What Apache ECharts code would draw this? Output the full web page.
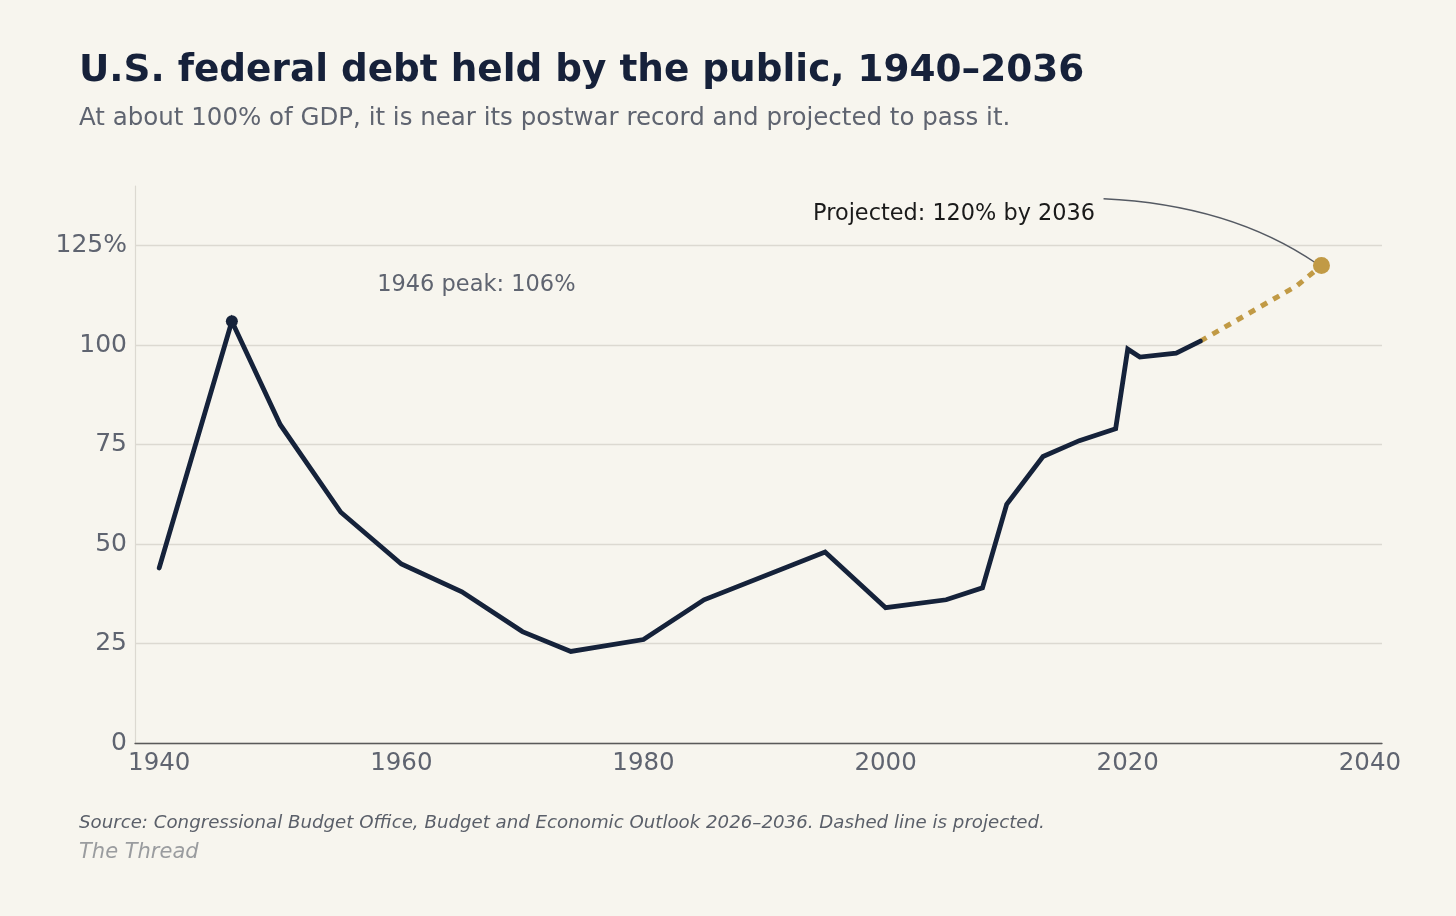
<!DOCTYPE html>
<html>
<head>
<meta charset="utf-8">
<title>U.S. federal debt held by the public</title>
<script src="https://cdn.jsdelivr.net/npm/echarts@6/dist/echarts.min.js"></script>
<style>
  html, body { margin: 0; padding: 0; background: #f7f5ee; }
  #chart { width: 1456px; height: 916px; }
</style>
</head>
<body>
<div id="chart"></div>
<script>
// historical debt held by the public, % of GDP
const histYears  = [1940, 1946, 1950, 1955, 1960, 1965, 1970, 1974, 1980, 1985, 1995, 2000, 2005, 2008, 2010, 2013, 2016, 2019, 2020, 2021, 2024, 2026];
const histValues = [44, 106, 80, 58, 45, 38, 28, 23, 26, 36, 48, 34, 36, 39, 60, 72, 76, 79, 99, 97, 98, 101];

// CBO projection
const projYears  = [2026, 2028, 2030, 2032, 2034, 2036];
const projValues = [101, 104.5, 108, 111.5, 115, 120];

const peakYear = 1946, peakValue = 106;
const endYear = 2036, endValue = 120;

const xLabels = [1940, 1960, 1980, 2000, 2020, 2040];

const NAVY = '#15223a';
const GOLD = '#c19a45';
const GRAY = '#5f6470';
const FONT = 'DejaVu Sans';

const chart = echarts.init(document.getElementById('chart'));

const zip = (xs, ys) => xs.map((x, i) => [x, ys[i]]);

chart.setOption({
    backgroundColor: '#f7f5ee',
    animation: false,
    textStyle: { fontFamily: FONT },
    grid: { left: 135, right: 74, top: 186, bottom: 173 },
    xAxis: {
        type: 'value',
        min: 1938,
        max: 2041,
        axisLine: { lineStyle: { color: '#5a5a5a', width: 1.3 } },
        axisTick: { show: false },
        splitLine: { show: false },
        axisLabel: {
            customValues: xLabels,
            color: GRAY,
            fontSize: 24.5,
            fontFamily: FONT,
            margin: 8,
            formatter: v => String(v)
        }
    },
    yAxis: {
        type: 'value',
        min: 0,
        max: 140,
        interval: 25,
        axisLine: { show: true, lineStyle: { color: '#dcd9d1', width: 1.2 } },
        axisTick: { show: false },
        splitLine: {
            lineStyle: {
                color: ['#dcd9d1', '#dcd9d1', '#dcd9d1', '#dcd9d1', '#dcd9d1', '#dcd9d1', 'rgba(0,0,0,0)'],
                width: 1.3
            }
        },
        axisLabel: {
            color: GRAY,
            fontSize: 25,
            fontFamily: FONT,
            margin: 8,
            padding: [5, 0, 0, 0],
            formatter: v => v === 125 ? '125%' : (v % 25 === 0 ? String(v) : '')
        }
    },
    series: [
        {
            name: 'Historical',
            type: 'line',
            data: zip(histYears, histValues),
            symbol: 'none',
            lineStyle: { color: NAVY, width: 4.8, cap: 'round', join: 'miter' },
            z: 3
        },
        {
            name: 'Projected',
            type: 'line',
            data: zip(projYears, projValues),
            symbol: 'none',
            lineStyle: { color: GOLD, width: 5, type: [7, 7] },
            z: 2
        },
        {
            name: 'Peak',
            type: 'scatter',
            data: [[peakYear, peakValue]],
            symbolSize: 12,
            itemStyle: { color: NAVY, opacity: 1 },
            z: 4
        },
        {
            name: 'End',
            type: 'scatter',
            data: [[endYear, endValue]],
            symbolSize: 17,
            itemStyle: { color: GOLD, opacity: 1 },
            z: 4
        }
    ]
});

// annotations placed from data coordinates
const px = (x, y) => chart.convertToPixel({ gridIndex: 0 }, [x, y]);
const peakLbl = px(1958, 115);
const projLbl = px(2017.3, 133);
const curveA = px(2018, 136.8);
const curveC = px(2028.5, 135.3);
const curveB = px(2035.6, 120.5);

chart.setOption({
    graphic: [
        {
            type: 'text', left: 79, top: 53,
            style: { text: 'U.S. federal debt held by the public, 1940–2036', font: 'bold 37.4px "DejaVu Sans"', fill: '#16213a' }
        },
        {
            type: 'text', left: 79, top: 106,
            style: { text: 'At about 100% of GDP, it is near its postwar record and projected to pass it.', font: '24.5px "DejaVu Sans"', fill: GRAY }
        },
        {
            type: 'text', x: peakLbl[0], y: peakLbl[1],
            style: { text: '1946 peak: 106%', font: '22.5px "DejaVu Sans"', fill: GRAY, align: 'left', verticalAlign: 'middle' }
        },
        {
            type: 'text', x: projLbl[0], y: projLbl[1],
            style: { text: 'Projected: 120% by 2036', font: '22.4px "DejaVu Sans"', fill: '#1a1a1a', align: 'right', verticalAlign: 'middle' }
        },
        {
            type: 'bezierCurve',
            shape: { x1: curveA[0], y1: curveA[1], cpx1: curveC[0], cpy1: curveC[1], x2: curveB[0], y2: curveB[1] },
            style: { stroke: '#555a63', lineWidth: 1.3, fill: null }
        },
        {
            type: 'text', left: 79, top: 814,
            style: { text: 'Source: Congressional Budget Office, Budget and Economic Outlook 2026–2036. Dashed line is projected.', font: 'italic 18.2px "DejaVu Sans"', fill: '#5a5f69' }
        },
        {
            type: 'text', left: 79, top: 842,
            style: { text: 'The Thread', font: 'italic 21px "DejaVu Sans"', fill: '#9a9c9f' }
        }
    ]
});
</script>
</body>
</html>
